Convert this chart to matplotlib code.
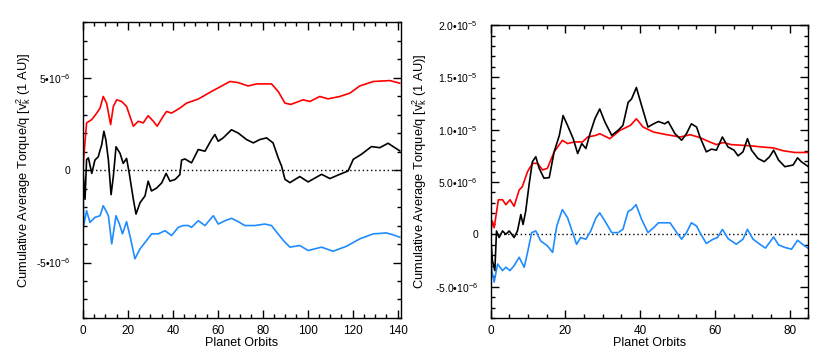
import numpy as np
import matplotlib
matplotlib.use("Agg")
from matplotlib import pyplot as plt
from matplotlib.ticker import MultipleLocator, FixedLocator

plt.rcParams['font.family'] = ['Liberation Sans', 'DejaVu Sans']
plt.rcParams['mathtext.fontset'] = 'custom'
plt.rcParams['mathtext.rm'] = 'Liberation Sans'
plt.rcParams['mathtext.it'] = 'Liberation Sans:italic'

# left panel (values in units of 1e-6)
red_l_x = [0, 0.4, 1.6, 3.9, 6.1, 7.6, 9.0, 10.5, 12.3, 13.5, 15, 17.2, 19.4, 22.4, 24.6, 26.8, 29, 31.3,
           33, 35.7, 37.2, 39.4, 43.1, 46.1, 51.3, 57.2, 61, 65.4, 69.1, 73.5, 77.3, 83.9, 86.9, 89.9,
           92.5, 98, 101, 105.4, 109.1, 114.3, 118.8, 123.2, 129.2, 136.6, 141]
red_l_y = [0, 0.8, 2.55, 2.73, 3.08, 3.35, 3.98, 3.62, 2.46, 3.44, 3.8, 3.71, 3.44, 2.37, 2.64, 2.55, 2.94, 2.64,
           2.37, 2.91, 3.17, 3.08, 3.35, 3.62, 3.84, 4.25, 4.5, 4.79, 4.73, 4.55, 4.66, 4.66, 4.25, 3.62,
           3.55, 3.8, 3.71, 3.98, 3.85, 3.98, 4.16, 4.55, 4.79, 4.84, 4.70]

blk_l_x = [0, 0.9, 1.6, 2.4, 3.9, 5.3, 6.8, 7.6, 8.3, 9.3, 10.2, 11.3, 12.5, 13.5, 14.7, 16.5, 17.9, 19.4,
           20.6, 22.4, 23.6, 25.4, 27.6, 29, 30.5, 32.8, 35, 37, 38.7, 41, 43.1, 43.9, 45.4, 48.3, 51.3,
           54.3, 57.2, 58.7, 60.2, 62.4, 66.1, 69.1, 72.8, 75.8, 78.7, 81.7, 84.6, 86.9, 88.4, 89.9, 92.1,
           96.5, 100.2, 106.2, 109.9, 114.3, 118, 120.3, 124, 128.4, 132.1, 135.8, 138.8, 141]
blk_l_y = [0, -1.58, 0.56, 0.66, -0.18, 0.54, 0.72, 1.08, 1.35, 2.1, 1.62, 0.54, -1.33, -0.35, 1.26, 0.9, 0.36, 0.63,
           -0.18, -1.58, -2.38, -1.76, -1.4, -0.6, -1.13, -0.97, -0.7, -0.18, -0.6, -0.51, -0.25, 0.54, 0.6, 0.39, 1.11,
           1.02, 1.65, 1.92, 1.56, 1.74, 2.18, 2.0, 1.65, 1.47, 1.65, 1.74, 1.47, 0.66, 0.21, -0.5, -0.68,
           -0.35, -0.64, -0.23, -0.46, -0.23, -0.05, 0.58, 0.86, 1.27, 1.21, 1.45, 1.21, 1.04]

blu_l_x = [0, 0.3, 1.6, 3.1, 5.3, 7.6, 9.0, 10.2, 11.3, 12.8, 14.7, 16.2, 17.6, 19.4, 21.2, 23.1, 25.4, 28.3,
           30.5, 33.5, 36.5, 39.4, 42.4, 44.6, 46.9, 48.3, 51.3, 54.3, 58, 60.2, 63.2, 66.1, 69.1, 72,
           76.5, 81, 83.9, 86.2, 89.2, 92.1, 96.5, 100.2, 106.2, 111.3, 117.3, 123.2, 129.2, 135.1, 138, 141]
blu_l_y = [0, -3.01, -2.2, -2.83, -2.56, -2.47, -1.93, -2.2, -2.47, -3.99, -2.47, -2.92, -3.45, -2.79, -3.72, -4.8, -4.26, -3.81,
           -3.45, -3.45, -3.28, -3.54, -3.1, -3.0, -3.0, -3.1, -2.74, -3.0, -2.47, -2.92, -2.74, -2.61, -2.79, -3.0,
           -3.0, -2.92, -3.0, -3.36, -3.81, -4.17, -4.08, -4.35, -4.17, -4.39, -4.12, -3.72, -3.45, -3.4, -3.5, -3.63]

# right panel (values in units of 1e-6)
red_r_x = [0, 0.5, 0.97, 2.1, 3.2, 4.1, 5.2, 6.3, 7.65, 8.5, 9.9, 11.2, 12.6, 13.9, 15.2, 17.0, 19.2, 20.6,
           22.4, 24.6, 26, 28.2, 29.2, 31.9, 34.6, 37.4, 39, 40.8, 43.6, 47.1, 50.7, 53.4, 56, 58.6, 60.4,
           62.2, 64.4, 67.1, 69.8, 72.4, 75.6, 78.3, 81.4, 85]
red_r_y = [0, 1.26, 0.63, 3.3, 3.3, 2.83, 3.3, 2.68, 4.23, 4.55, 5.99, 6.78, 6.78, 6.15, 6.3, 7.87, 8.98, 8.67,
           8.83, 8.83, 9.3, 9.46, 9.62, 9.14, 9.93, 10.41, 11.04, 10.25, 9.77, 9.52, 9.3, 9.52, 9.24, 8.83, 8.57,
           8.77, 8.57, 8.51, 8.45, 8.35, 8.26, 7.98, 7.82, 7.82]

blk_r_x = [0, 0.5, 1.15, 1.6, 2.3, 3.2, 4.1, 5, 6.3, 7.2, 8.1, 8.7, 9.4, 10.3, 11.2, 12.1, 13, 14.3, 15.7,
           17, 18.4, 19.4, 20.6, 22.1, 23.3, 24.4, 25.5, 26.6, 27.9, 29.2, 30.6, 32.4, 34.1, 35.4, 36.8,
           37.7, 39, 40.4, 42.1, 43.6, 44.9, 46.6, 47.5, 49.3, 51.1, 52.4, 53.7, 55.1, 56, 57.7, 59.1,
           60.4, 62, 63.5, 65.1, 66.2, 67.5, 68.7, 69.8, 71.5, 73.2, 74.6, 75.7, 77, 78.7, 80.9, 82.1,
           83.1, 85]
blk_r_y = [0, -2.52, -3.47, 0.32, -0.31, 0.32, 0, 0.32, -0.31, 0.32, 1.89, 0.94, 2.2, 4.73, 6.94, 7.41, 6.31, 5.36, 5.42,
           7.87, 9.46, 11.35, 10.4, 9.14, 7.72, 8.67, 8.2, 9.62, 11.04, 11.98, 10.72, 9.46, 9.93, 10.41, 12.61,
           12.93, 14.03, 12.3, 10.25, 10.56, 10.78, 10.56, 10.78, 9.62, 8.99, 9.62, 10.56, 10.25, 9.3, 7.88, 8.14,
           8.04, 9.3, 8.35, 8.04, 7.5, 7.88, 9.14, 8.04, 7.25, 6.94, 7.41, 8.04, 7.1, 6.46, 6.62, 7.31,
           6.94, 6.46]

blu_r_x = [0, 0.35, 0.97, 1.9, 3.2, 4.1, 5.2, 6.3, 7.65, 9.0, 9.9, 11.0, 12.1, 13.4, 15.2, 16.6, 17.7, 19.2,
           20.6, 22.1, 23, 24.1, 25.5, 26.8, 28.2, 29.2, 30.6, 32.4, 34.1, 35.4, 36.8, 37.7, 38.9, 40.4,
           42.1, 43.6, 44.9, 46.6, 48, 49.8, 51.1, 52.4, 53.7, 55.1, 56, 57.7, 59.5, 60.7, 62, 63.5, 65.7,
           67.5, 68.7, 70.2, 72, 73.5, 74.6, 75.7, 77, 78.7, 80.5, 82.1, 83.4, 85]
blu_r_y = [0, -3.47, -4.57, -2.84, -3.47, -3.15, -3.47, -3.0, -2.2, -3.15, -1.73, 0.16, 0.32, -0.63, -1.1, -1.73, 0.79, 2.36,
           1.58, 0, -0.95, -0.32, -0.47, 0.32, 1.58, 2.05, 1.26, 0.16, 0.16, 0.47, 2.2, 2.36, 2.84, 1.42,
           0.16, 0.63, 1.1, 1.1, 1.1, 0.16, -0.47, 0.16, 1.1, 0.79, 0.16, -0.88, -0.47, -0.31, 0.47, -0.41, -0.95,
           -0.47, 0.47, -0.47, -0.95, -1.32, -0.79, -0.25, -1.01, -1.26, -1.42, -0.57, -0.95, -1.36]

left_ticks = [-5e-6, 0, 5e-6]
left_labels = ['-5•10$^{-6}$', '0', '5•10$^{-6}$']
right_ticks = [-5e-6, 0, 5e-6, 1e-5, 1.5e-5, 2e-5]
right_labels = ['-5.0•10$^{-6}$', '0', '5.0•10$^{-6}$', '1.0•10$^{-5}$', '1.5•10$^{-5}$', '2.0•10$^{-5}$']

blue = '#1e8cff'
fig = plt.figure(figsize=(8.3, 3.63), dpi=100)
ax1 = fig.add_axes([0.1, 0.124, 0.383, 0.815])
ax2 = fig.add_axes([0.591, 0.124, 0.383, 0.807])

panels = [(ax1, red_l_x, red_l_y, blk_l_x, blk_l_y, blu_l_x, blu_l_y, 141.5, (-8e-6, 8e-6), left_ticks, left_labels, -0.157),
          (ax2, red_r_x, red_r_y, blk_r_x, blk_r_y, blu_r_x, blu_r_y, 85, (-8e-6, 2e-5), right_ticks, right_labels, -0.194)]

for ax, rx, ry, kx, ky, bx, by, xmax, ylim, yt, yl, labx in panels:
    ax.axhline(0, color='black', ls=(0, (1, 2)), lw=1.0)
    ax.plot(rx, np.array(ry) * 1e-6, color='red', lw=1.2)
    ax.plot(bx, np.array(by) * 1e-6, color=blue, lw=1.2)
    ax.plot(kx, np.array(ky) * 1e-6, color='black', lw=1.2)
    ax.set_xlim(0, xmax)
    ax.set_ylim(*ylim)
    ax.xaxis.set_major_locator(MultipleLocator(20))
    ax.xaxis.set_minor_locator(MultipleLocator(5))
    ax.yaxis.set_major_locator(FixedLocator(yt))
    ax.yaxis.set_minor_locator(MultipleLocator(1e-6))
    ax.set_yticklabels(yl)
    ax.tick_params(which='both', direction='in', top=True, right=True)
    ax.tick_params(which='major', length=6, width=1)
    ax.tick_params(which='minor', length=3, width=1)
    ax.tick_params(axis='x', labelsize=8.5, pad=5)
    ax.tick_params(axis='y', labelsize=7.5, pad=9)
    for s in ax.spines.values():
        s.set_linewidth(1.0)
    ax.set_xlabel('Planet Orbits', fontsize=9, labelpad=0)
    ax.set_ylabel(r'Cumulative Average Torque/q [v$_{\rm k}^2$ (1 AU)]', fontsize=9.3)
    ax.yaxis.set_label_coords(labx, 0.5)

plt.savefig('out.png', dpi=100)
